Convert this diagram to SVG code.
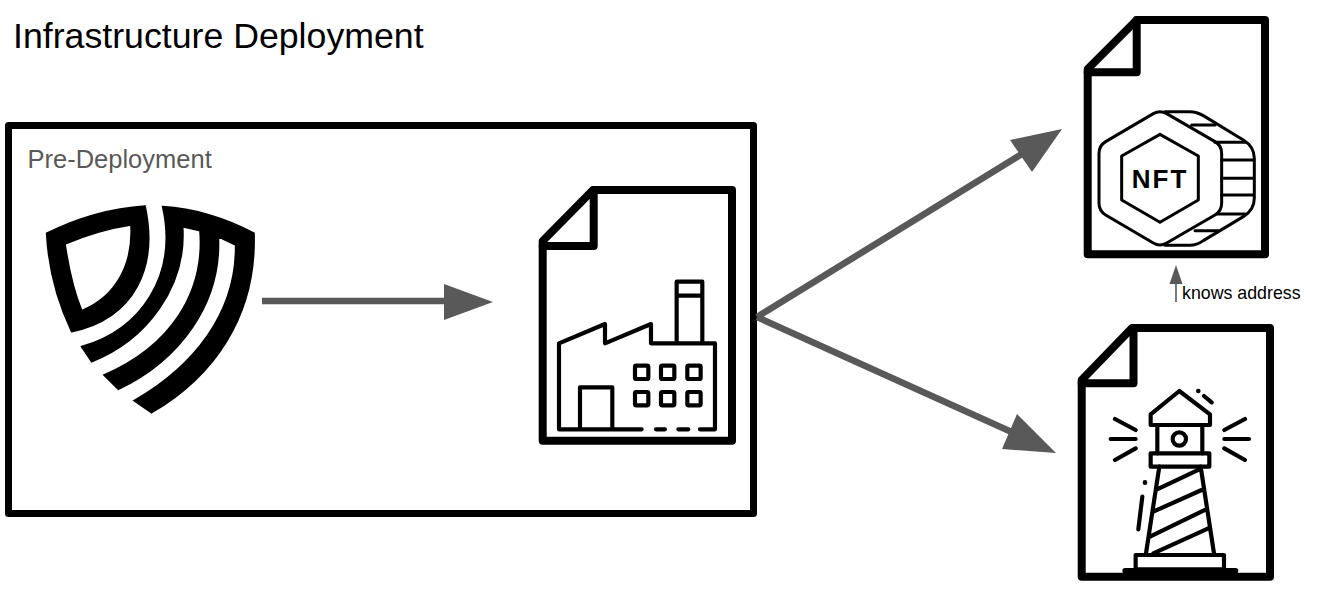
<svg xmlns="http://www.w3.org/2000/svg" width="1327" height="600" viewBox="0 0 1327 600">
<style>
text{font-family:"Liberation Sans",Arial,sans-serif}
.doc{fill:none;stroke:#000;stroke-width:8;stroke-linejoin:round;stroke-linecap:round}
.ic{fill:none;stroke:#000;stroke-width:12.5;stroke-linejoin:round;stroke-linecap:round}
.ic2{fill:none;stroke:#000;stroke-width:9;stroke-linejoin:round;stroke-linecap:round}
.con{stroke:#595959;stroke-width:6.6;fill:none}
.hd{fill:#595959}
</style>
<rect width="1327" height="600" fill="#fff"/>
<g id="title"><text x="13" y="47.5" font-size="35.7" fill="#000">Infrastructure Deployment</text></g>
<g id="pre-deployment">
<rect x="8.5" y="125.5" width="745" height="388" fill="none" stroke="#000" stroke-width="7" stroke-linejoin="round"/>
<text x="27.5" y="168" font-size="25.5" fill="#595959">Pre-Deployment</text>
</g>
<g id="shield" transform="translate(30 190) scale(.3333)" stroke="#000" stroke-width="5">
<path fill-rule="evenodd" d="M50 130C140 85 240 55 345 48C385 230 315 385 125 425C80 330 55 230 50 130ZM105 162C115 230 130 300 155 362C260 320 310 220 303 105C235 115 170 135 105 162Z"/>
<path d="M398 50C490 55 590 85 672 130C680 380 550 560 365 668L312 632C490 530 620 370 617 165L565 140C575 340 450 510 265 598L222 555C420 470 525 310 510 122L458 110C470 290 350 450 185 515L155 470C330 420 445 260 398 50Z"/>
</g>
<g id="factory-doc">
<path class="doc" d="M593 190H732V440.7H542.7V241Z"/>
<path class="doc" d="M593.7 190V246H542.7"/>
<g transform="translate(530 180) scale(.3333)">
<path class="ic" d="M510 748H555V490H363V432L225 490V432L87 490V748H335M405 748H378M475 748H445M150 748V622H247V748M440 490V305H517V490M440 347H517"/>
<g class="ic"><rect x="315" y="557" width="40" height="40" rx="4"/><rect x="393" y="557" width="40" height="40" rx="4"/><rect x="472" y="557" width="40" height="40" rx="4"/><rect x="315" y="636" width="40" height="40" rx="4"/><rect x="393" y="636" width="40" height="40" rx="4"/><rect x="472" y="636" width="40" height="40" rx="4"/></g>
</g>
</g>
<g id="nft-doc">
<path class="doc" d="M1136.7 20H1265V254.3H1087.7V69Z"/>
<path class="doc" d="M1136.7 20V72.3H1087.7"/>
<g transform="translate(1075 10) scale(.3333)">
<g class="ic2">
<path d="M235 311Q255 299 275 311L420 395Q440 407 440 430V580Q440 603 420 615L275 699Q255 711 235 699L92 615Q72 603 72 580V430Q72 407 92 395Z"/>
<path d="M255 373L370 438V570L255 637L140 570V438Z"/>
<path d="M270 305H345Q365 305 385 317L505 390Q538 410 538 445V565Q538 600 505 620L385 692Q365 706 345 706H270"/>
<path d="M350 345H420M420 397H510M440 450H536M440 505H536M440 555H536M425 612H510M360 662H430"/>
</g>
</g>
<text x="1160" y="187.7" font-size="26" font-weight="700" letter-spacing="2" text-anchor="middle" fill="#000">NFT</text>
</g>
<g id="lighthouse-doc">
<path class="doc" d="M1132 328H1270V576.7H1081.7V380Z"/>
<path class="doc" d="M1133.5 328V383.3H1081.7"/>
<g transform="translate(1070 320) scale(.3333)">
<g class="ic">
<path d="M328 213L420 283V315H242V283Z"/>
<path d="M262 315V400M397 315V400"/>
<circle cx="328" cy="357" r="20"/>
<rect x="242" y="400" width="176" height="40"/>
<path d="M268 440L228 700M392 440L432 700M258 510L385 450M250 575L395 510M240 650L405 570M250 700L415 625"/>
<rect x="197" y="705" width="265" height="43"/>
<path d="M135 297L197 330M122 357H197M135 420L197 385M525 297L463 330M537 357H463M525 420L463 385M402 228L425 247M217 530L205 628"/>
<path d="M385 213V213.1M225 487V488" style="stroke-width:14"/>
<path d="M165 752H497" style="stroke-width:16"/>
</g>
</g>
</g>
<g id="connectors">
<path class="con" d="M262 301H446"/><polygon class="hd" points="444,284 493,302 444,320"/>
<path class="con" d="M757 317L1030 149"/><polygon class="hd" points="1010,140 1062,129 1032,172"/>
<path class="con" d="M757 317L1025 438"/><polygon class="hd" points="1017,414 1056,453 1002,449"/>
<path d="M1176 302V282" stroke="#595959" stroke-width="1.6" fill="none"/><polygon class="hd" points="1169.5,284 1176,265 1182.5,284"/>
</g>
<g id="knows-address"><text x="1182" y="299" font-size="17.8" fill="#000">knows address</text></g>
</svg>
